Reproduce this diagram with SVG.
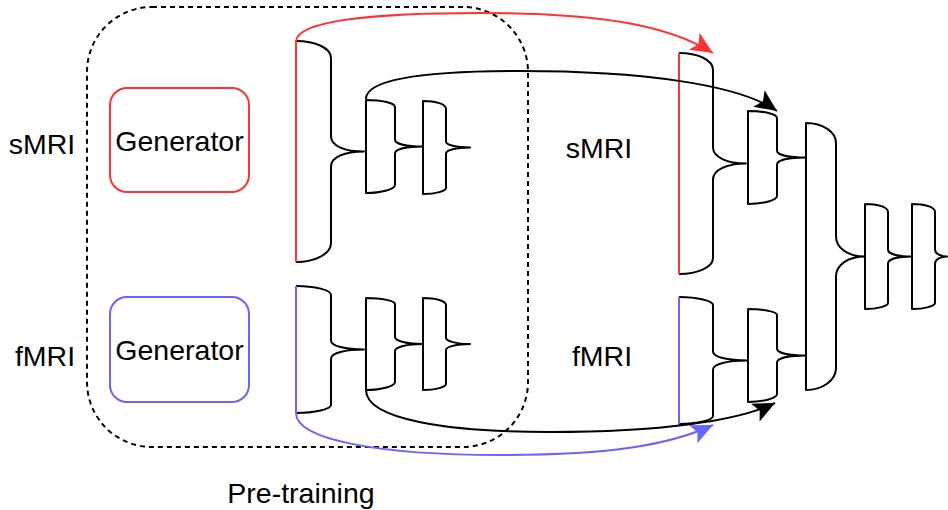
<svg xmlns="http://www.w3.org/2000/svg" width="948" height="510" viewBox="0 0 948 510">
  <style>
    .txt { font-family: "Liberation Sans", Arial, sans-serif; font-size: 28.5px; fill: #000; text-anchor: middle; }
    .blk { fill: none; stroke: #000; stroke-width: 2; stroke-linejoin: round; }
    .red { fill: none; stroke: #FF3333; stroke-width: 2; }
    .blue { fill: none; stroke: #6666FF; stroke-width: 2; }
    .frame { fill: none; stroke: #000; stroke-width: 2; stroke-dasharray: 5 4; }
  </style>
  <defs>
    <marker id="arrBlack" markerUnits="userSpaceOnUse" markerWidth="24" markerHeight="20" refX="22" refY="10" orient="auto">
      <path d="M0,0 L22,10 L0,20 L5,10 Z" fill="#000"/>
    </marker>
    <marker id="arrRed" markerUnits="userSpaceOnUse" markerWidth="24" markerHeight="20" refX="22" refY="10" orient="auto">
      <path d="M0,0 L22,10 L0,20 L5,10 Z" fill="#FF3333"/>
    </marker>
    <marker id="arrBlue" markerUnits="userSpaceOnUse" markerWidth="24" markerHeight="20" refX="22" refY="10" orient="auto">
      <path d="M0,0 L22,10 L0,20 L5,10 Z" fill="#6666FF"/>
    </marker>
  </defs>

  <!-- pre-training frame -->
  <g id="pretraining">
    <rect class="frame" x="87" y="7" width="441" height="440" rx="65" ry="65"/>
    <text class="txt" x="301" y="503">Pre-training</text>
  </g>

  <!-- modality labels -->
  <g id="labels">
    <text class="txt" x="42" y="154">sMRI</text>
    <text class="txt" x="45" y="366">fMRI</text>
    <text class="txt" x="599" y="158">sMRI</text>
    <text class="txt" x="602" y="366">fMRI</text>
  </g>

  <!-- generators -->
  <g id="gen-smri">
    <rect x="110" y="88" width="139" height="104" rx="17" ry="17" fill="#fff" stroke="#FF3333" stroke-width="2"/>
    <text class="txt" x="179.5" y="151">Generator</text>
  </g>
  <g id="gen-fmri">
    <rect x="110" y="297" width="139" height="105" rx="17" ry="17" fill="#fff" stroke="#6666FF" stroke-width="2"/>
    <text class="txt" x="179.5" y="360">Generator</text>
  </g>

  <!-- sMRI encoder (pre-training) -->
  <g id="enc-smri-1">
    <path class="blk" d="M296,41 C315,41 331,48 331,58 L331,136.5 C331,146 345,151.5 364,151.5 C345,151.5 331,157 331,166.5 L331,243 C331,254 315,262 296,262"/>
    <line class="red" x1="296" y1="41" x2="296" y2="262"/>
  </g>
  <g id="enc-smri-2">
    <path class="blk" d="M366,100 C382,100 395,103 395,107 L395,139.5 C395,144 407,146.5 423,146.5 C407,146.5 395,149 395,153.5 L395,185 C395,189 382,193 366,193 Z"/>
  </g>
  <g id="enc-smri-3">
    <path class="blk" d="M423,101 C436,101 446,104 446,109 L446,141.5 C446,145 456,147.5 470,147.5 C456,147.5 446,150 446,153.5 L446,188 C446,191 436,194 423,194 Z"/>
  </g>

  <!-- fMRI encoder (pre-training) -->
  <g id="enc-fmri-1">
    <path class="blk" d="M296,286 C315,286 331,290 331,295 L331,340.5 C331,346 345,349.5 364,349.5 C345,349.5 331,353 331,358.5 L331,405 C331,409 315,413 296,413"/>
    <line class="blue" x1="296" y1="286" x2="296" y2="413"/>
  </g>
  <g id="enc-fmri-2">
    <path class="blk" d="M366,298 C382,298 395,301 395,304 L395,337 C395,341 407,344 423,344 C407,344 395,347 395,351 L395,382 C395,386 382,390 366,390 Z"/>
  </g>
  <g id="enc-fmri-3">
    <path class="blk" d="M423,298 C436,298 446,301 446,305 L446,338 C446,341 456,344 470,344 C456,344 446,347 446,350 L446,384 C446,387 436,390 423,390 Z"/>
  </g>

  <!-- sMRI branch (fine-tuning) -->
  <g id="ft-smri-1">
    <path class="blk" d="M679,53 C698,53 713,60 713,70 L713,147.5 C713,157 727,163.5 746,163.5 C727,163.5 713,170 713,179.5 L713,258 C713,267 698,274 679,274"/>
    <line class="red" x1="679" y1="53" x2="679" y2="274"/>
  </g>
  <g id="ft-smri-2">
    <path class="blk" d="M748,111 C764,111 777,114 777,118 L777,150.5 C777,155 789,157.5 806,157.5 C789,157.5 777,160 777,164.5 L777,196 C777,200 764,204 748,204 Z"/>
  </g>

  <!-- fMRI branch (fine-tuning) -->
  <g id="ft-fmri-1">
    <path class="blk" d="M679,297 C698,297 713,301 713,305 L713,351.5 C713,357 727,360.5 748,360.5 C727,360.5 713,364 713,369.5 L713,416 C713,420 698,424 679,424"/>
    <line class="blue" x1="679" y1="297" x2="679" y2="424"/>
  </g>
  <g id="ft-fmri-2">
    <path class="blk" d="M748,309 C764,309 777,312 777,315 L777,348.5 C777,353 789,355.5 806,355.5 C789,355.5 777,358 777,362.5 L777,394 C777,398 764,402 748,402 Z"/>
  </g>

  <!-- fusion and head -->
  <g id="fusion">
    <path class="blk" d="M806,123 C823,123 836,132 836,143 L836,236.5 C836,248 848,256.5 865,256.5 C848,256.5 836,265 836,276.5 L836,368 C836,380 823,390 806,390 Z"/>
  </g>
  <g id="head-1">
    <path class="blk" d="M865,204 C878,204 888,207 888,212 L888,249.5 C888,254 898,256.5 912,256.5 C898,256.5 888,259 888,263.5 L888,303 C888,306 878,309 865,309 Z"/>
  </g>
  <g id="head-2">
    <path class="blk" d="M912,204 C925,204 935,207 935,212 L935,249.5 C935,254 941,256.5 947,256.5 C941,256.5 935,259 935,263.5 L935,303 C935,306 925,309 912,309 Z"/>
  </g>

  <!-- connectors -->
  <g id="connectors">
    <path class="red" d="M296,41 C298,20 380,13 480,13 C600,13 668,25 713,53" marker-end="url(#arrRed)"/>
    <path class="blk" d="M366,99 C366,80 420,71 520,71 C640,71 738,84 777,111" marker-end="url(#arrBlack)"/>
    <path class="blk" d="M366,390 C366,420 450,432 550,432 C660,432 738,421 775,403" marker-end="url(#arrBlack)"/>
    <path class="blue" d="M296,413 C296,440 380,455 500,455 C610,455 670,445 713,425" marker-end="url(#arrBlue)"/>
  </g>
</svg>
